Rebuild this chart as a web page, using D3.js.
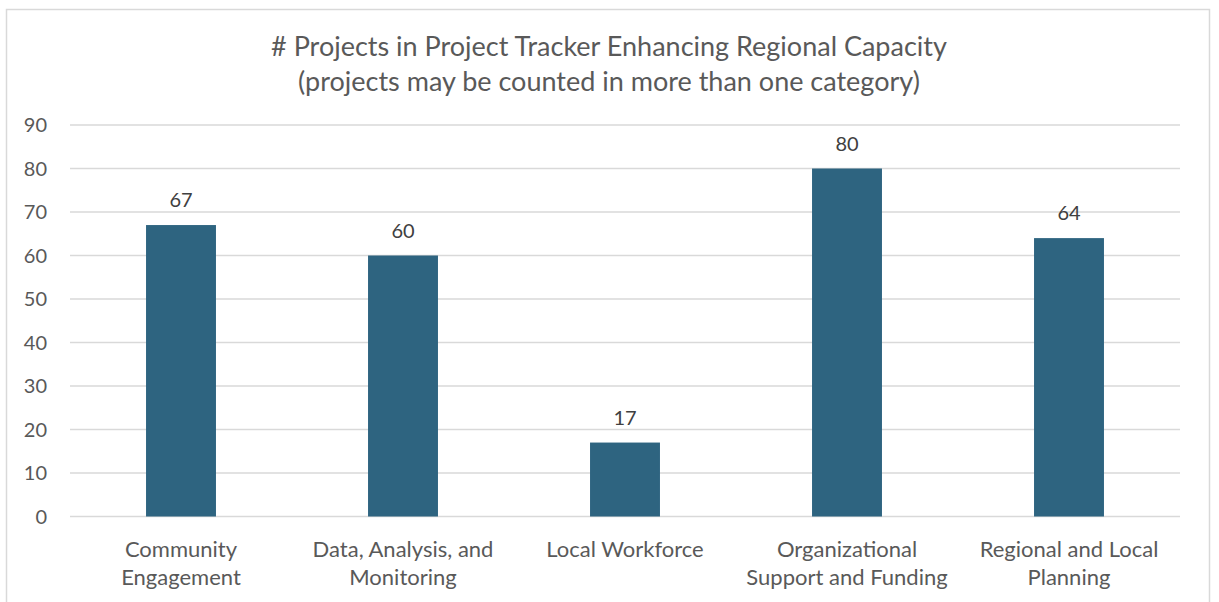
<!DOCTYPE html>
<html>
<head>
<meta charset="utf-8">
<script src="https://cdn.jsdelivr.net/npm/d3@7"></script>
<style>
  body { margin: 0; background: #fff; }
  svg { font-family: Lato, "Open Sans", sans-serif; }
</style>
</head>
<body>
<svg width="1219" height="602"></svg>
<script>
// data
var categories = [
    ["Community", "Engagement"],
    ["Data, Analysis, and", "Monitoring"],
    ["Local Workforce"],
    ["Organizational", "Support and Funding"],
    ["Regional and Local", "Planning"]
];
var counts = [67, 60, 17, 80, 64];
var yTicks = [0, 10, 20, 30, 40, 50, 60, 70, 80, 90];
var titleLines = ["# Projects in Project Tracker Enhancing Regional Capacity",
                  "(projects may be counted in more than one category)"];

var canvas = d3.select("svg");
var keys = categories.map(function(c) { return c.join(" "); });

// outer border
canvas.append("rect")
    .attr("x", 6.5).attr("y", 9.5)
    .attr("width", 1203).attr("height", 600)
    .attr("fill", "none").attr("stroke", "#d9d9d9").attr("stroke-width", 1.5);

var x = d3.scaleBand().domain(keys).range([70, 1180]).paddingInner(0.685).paddingOuter(0.3425);
var y = d3.scaleLinear().domain([0, 90]).range([516.5, 125]);

// gridlines
canvas.append("g").selectAll("line").data(yTicks).enter().append("line")
    .attr("x1", 70).attr("x2", 1180)
    .attr("y1", function(d) { return y(d); })
    .attr("y2", function(d) { return y(d); })
    .attr("stroke", "#d9d9d9").attr("stroke-width", 1.3);

// y tick labels
canvas.append("g").selectAll("text").data(yTicks).enter().append("text")
    .attr("x", 47)
    .attr("y", function(d) { return y(d); })
    .attr("dy", "0.36em")
    .attr("text-anchor", "end")
    .attr("fill", "#595959")
    .attr("font-size", 20)
    .text(function(d) { return d; });

// bars
canvas.append("g").selectAll("rect").data(counts).enter().append("rect")
    .attr("x", function(d, i) { return x(keys[i]); })
    .attr("y", function(d) { return y(d); })
    .attr("width", x.bandwidth())
    .attr("height", function(d) { return y(0) - y(d); })
    .attr("fill", "#2e6480");

// value labels
canvas.append("g").selectAll("text").data(counts).enter().append("text")
    .attr("x", function(d, i) { return x(keys[i]) + x.bandwidth() / 2; })
    .attr("y", function(d) { return y(d) - 18; })
    .attr("text-anchor", "middle")
    .attr("fill", "#404040")
    .attr("font-size", 20)
    .text(function(d) { return d; });

// category labels
var cat = canvas.append("g").selectAll("text").data(categories).enter().append("text")
    .attr("text-anchor", "middle")
    .attr("fill", "#595959")
    .attr("font-size", 22);
cat.selectAll("tspan").data(function(d, i) { return d.map(function(s) { return {s: s, i: i}; }); })
    .enter().append("tspan")
    .attr("x", function(d) { return x(keys[d.i]) + x.bandwidth() / 2; })
    .attr("y", function(d, j) { return 557 + j * 27.5; })
    .text(function(d) { return d.s; });

// title
canvas.append("g").selectAll("text").data(titleLines).enter().append("text")
    .attr("x", 609)
    .attr("y", function(d, i) { return 56 + i * 35; })
    .attr("text-anchor", "middle")
    .attr("fill", "#595959")
    .attr("font-size", 27)
    .text(function(d) { return d; });
</script>
</body>
</html>
